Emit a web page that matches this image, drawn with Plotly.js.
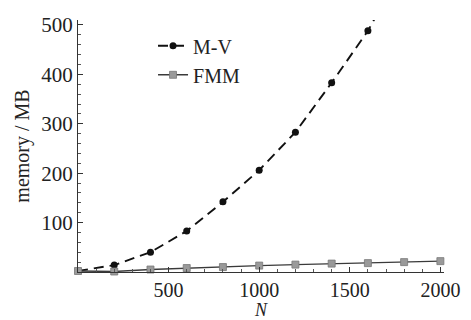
<!DOCTYPE html>
<html>
<head>
<meta charset="utf-8">
<script src="https://cdn.plot.ly/plotly-3.0.1.min.js"></script>
<style>html,body{margin:0;padding:0;background:#fff;}#chart{width:471px;height:320px;}</style>
</head>
<body>
<div id="chart"></div>
<script>
// Data
const nMV = [0, 200, 400, 600, 800, 1000, 1200, 1400, 1600, 1800];
const memMV = [2, 14, 40, 83, 142, 206, 283, 383, 488, 620];
const nFMM = [0, 200, 400, 600, 800, 1000, 1200, 1400, 1600, 1800, 2000];
const memFMM = [2, 1, 5, 8, 10, 13, 15, 17, 18, 20, 22];
const xTicks = [500, 1000, 1500, 2000];
const yTicks = [100, 200, 300, 400, 500];
const seriesNames = ['M-V', 'FMM'];

const font = 'Liberation Serif, Times New Roman, serif';

const traces = [
  {
    x: nMV, y: memMV, name: seriesNames[0], type: 'scatter', mode: 'lines+markers',
    line: {color: '#111', width: 1.9, dash: '10px,6px'},
    marker: {color: '#111', size: 7, symbol: 'circle'},
    cliponaxis: true
  },
  {
    x: nFMM, y: memFMM, name: seriesNames[1], type: 'scatter', mode: 'lines+markers',
    line: {color: '#3a3a3a', width: 1.4},
    marker: {color: '#9a9a9a', size: 7, symbol: 'square', line: {color: '#777', width: 0.8}},
    cliponaxis: false
  }
];

const layout = {
  width: 471, height: 320,
  margin: {l: 78, r: 27, t: 20, b: 48},
  paper_bgcolor: '#fff', plot_bgcolor: '#fff',
  font: {family: font, size: 20, color: '#222'},
  showlegend: true,
  legend: {
    x: 0.205, y: 0.975, xanchor: 'left', yanchor: 'top',
    bgcolor: 'rgba(0,0,0,0)', font: {family: font, size: 20, color: '#222'},
    tracegroupgap: 0
  },
  xaxis: {
    range: [0, 2020], showgrid: false, zeroline: false,
    showline: true, linecolor: '#333', linewidth: 1,
    ticks: 'inside', ticklen: 5, tickcolor: '#333',
    tickvals: xTicks, ticktext: xTicks.map(String),
    tickfont: {family: font, size: 20, color: '#222'},
    minor: {dtick: 100, ticks: 'inside', ticklen: 3, tickcolor: '#555'},
    title: {text: '<i>N</i>', font: {family: font, size: 18, color: '#222'}, standoff: 10}
  },
  yaxis: {
    range: [0, 510], showgrid: false, zeroline: false,
    showline: true, linecolor: '#333', linewidth: 1,
    ticks: 'inside', ticklen: 5, tickcolor: '#333',
    tickvals: yTicks, ticktext: yTicks.map(String),
    tickfont: {family: font, size: 21, color: '#222'},
    minor: {dtick: 20, ticks: 'inside', ticklen: 3, tickcolor: '#555'},
    title: {text: 'memory / MB', font: {family: font, size: 20, color: '#222'}, standoff: 6}
  }
};

Plotly.newPlot('chart', traces, layout, {displayModeBar: false, staticPlot: true});
</script>
</body>
</html>
